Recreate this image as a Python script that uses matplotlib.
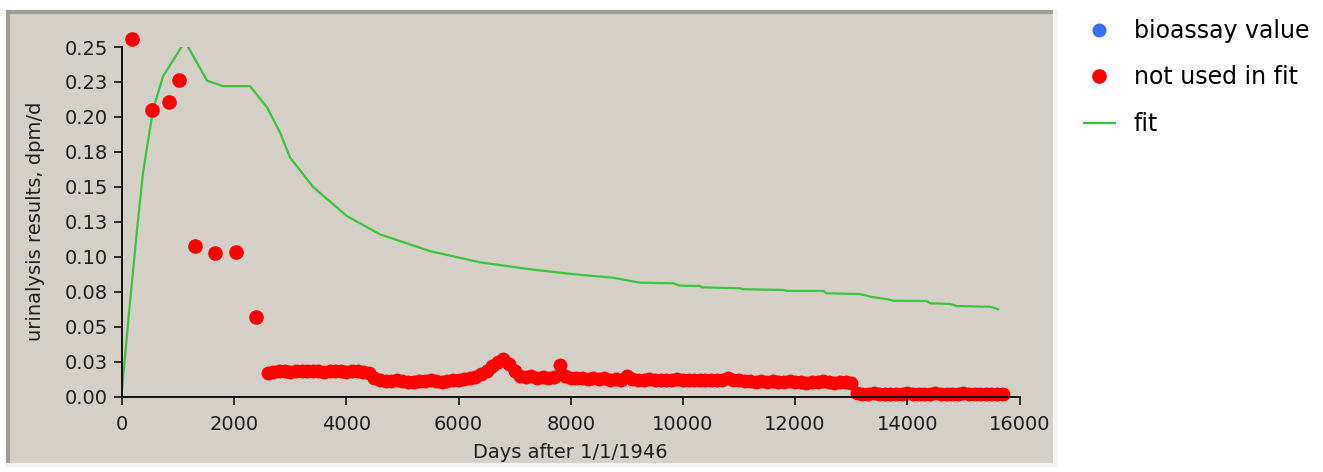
import matplotlib
matplotlib.use("Agg")
import matplotlib.pyplot as plt
from matplotlib.patches import Rectangle
from matplotlib.lines import Line2D

# fitted curve (days after 1/1/1946, dpm/d)
fit_days = [0, 130, 267, 374, 553, 731, 1123, 1515, 1800, 2282, 2584, 2816, 2995,
            3405, 4011, 4599, 5490, 6381, 7273, 8164, 8752, 9235, 9829, 9948,
            10305, 10335, 11018, 11077, 11790, 11850, 12503, 12563, 13157, 13336,
            13633, 13752, 14346, 14405, 14762, 14881, 15475, 15623]
fit_vals = [0.005, 0.062, 0.119, 0.160, 0.205, 0.229, 0.254, 0.226, 0.222, 0.222,
            0.207, 0.189, 0.171, 0.150, 0.129, 0.116, 0.104, 0.096, 0.091, 0.087,
            0.085, 0.0814, 0.081, 0.0793, 0.079, 0.0781, 0.0774, 0.0767, 0.0762,
            0.0755, 0.0755, 0.0738, 0.0733, 0.0714, 0.0697, 0.0685, 0.0683, 0.0667,
            0.0662, 0.0647, 0.0642, 0.0624]

# early results, not used in fit
early_days = [178, 535, 838, 1016, 1301, 1658, 2032, 2388]
early_vals = [0.2557, 0.205, 0.2107, 0.2264, 0.108, 0.103, 0.1036, 0.057]

# later results (dense), also not used in fit
band_days = list(range(2600, 15800, 100))
band_vals = [
    # 2600-4400
    0.0170, 0.0175, 0.0180, 0.0180, 0.0175, 0.0180, 0.0185, 0.0180, 0.0185, 0.0180,
    0.0175, 0.0180, 0.0185, 0.0180, 0.0175, 0.0180, 0.0180, 0.0175, 0.0170,
    # 4500
    0.0135,
    # 4600-6000
    0.0115, 0.0110, 0.0110, 0.0115, 0.0110, 0.0105, 0.0105, 0.0110, 0.0110, 0.0115,
    0.0110, 0.0105, 0.0110, 0.0115, 0.0120,
    # 6100-8000
    0.0125, 0.0130, 0.0140, 0.0160, 0.0185, 0.0215, 0.0245, 0.0265, 0.0230, 0.0180,
    0.0150, 0.0140, 0.0145, 0.0135, 0.0140, 0.0135, 0.0140, 0.0225, 0.0145, 0.0135,
    # 8100-11000
    0.0130, 0.0135, 0.0125, 0.0130, 0.0125, 0.0130, 0.0120, 0.0125, 0.0120, 0.0150,
    0.0125, 0.0120, 0.0120, 0.0125, 0.0120, 0.0120, 0.0115, 0.0120, 0.0125, 0.0120,
    0.0115, 0.0120, 0.0120, 0.0115, 0.0120, 0.0115, 0.0115, 0.0135, 0.0115, 0.0115,
    # 11100-13000
    0.0110, 0.0110, 0.0105, 0.0110, 0.0105, 0.0110, 0.0105, 0.0105, 0.0110, 0.0105,
    0.0105, 0.0100, 0.0105, 0.0105, 0.0110, 0.0105, 0.0100, 0.0105, 0.0105, 0.0100,
    # 13100-15700
    0.0025, 0.0020, 0.0020, 0.0025, 0.0020, 0.0020, 0.0015, 0.0020, 0.0020, 0.0025,
    0.0020, 0.0015, 0.0020, 0.0020, 0.0025, 0.0020, 0.0020, 0.0015, 0.0020, 0.0025,
    0.0020, 0.0020, 0.0015, 0.0020, 0.0020, 0.0015, 0.0020,
]

# no bioassay values shown in this chart
bioassay_days = []
bioassay_vals = []

y_ticks = [0.0, 0.025, 0.05, 0.075, 0.1, 0.125, 0.15, 0.175, 0.2, 0.225, 0.25]
y_labels = ["0.00", "0.03", "0.05", "0.08", "0.10", "0.13", "0.15", "0.18",
            "0.20", "0.23", "0.25"]
x_ticks = [0, 2000, 4000, 6000, 8000, 10000, 12000, 14000, 16000]

W, H = 1323, 472
fig = plt.figure(figsize=(W / 100, H / 100), dpi=100)
fig.patch.set_facecolor("white")

# grey window panel with sunken edges
panel = Rectangle((8 / W, 1 - 464 / H), (1055 - 8) / W, (464 - 12) / H,
                  transform=fig.transFigure, facecolor="#d4d0c8", edgecolor="none",
                  zorder=-5)
fig.patches.append(panel)
edges = [
    ([8, 8], [464, 12], "#a09d96"),
    ([8, 1055], [12, 12], "#a09d96"),
    ([1055, 1055], [464, 12], "#f3f2ee"),
    ([8, 1055], [465, 465], "#f3f2ee"),
]
for xs, ys, c in edges:
    fig.add_artist(Line2D([x / W for x in xs], [1 - y / H for y in ys],
                          transform=fig.transFigure, color=c, lw=3, zorder=-4))

ax = fig.add_axes([122 / W, 1 - 396.5 / H, (1019.5 - 122) / W, (396.5 - 47) / H])
ax.set_facecolor("none")

ax.plot(bioassay_days, bioassay_vals, "o", color="#3a6cf4", markersize=9,
        label="bioassay value")
ax.plot(early_days, early_vals, "o", color="#ff0000", markersize=9.5,
        label="not used in fit", clip_on=False, zorder=3)
ax.plot(band_days, band_vals, "o", color="#ff0000", markersize=10,
        markeredgewidth=0, clip_on=False, zorder=1)
ax.plot(fit_days, fit_vals, "-", color="#3cc23c", lw=1.6, label="fit", zorder=2)

ax.set_xlim(0, 16000)
ax.set_ylim(0, 0.25)
ax.set_xticks(x_ticks)
ax.set_yticks(y_ticks)
ax.set_yticklabels(y_labels)

for s in ["top", "right"]:
    ax.spines[s].set_visible(False)
for s in ["left", "bottom"]:
    ax.spines[s].set_linewidth(1.4)
    ax.spines[s].set_color("#111111")
    ax.spines[s].set_zorder(4)

ax.tick_params(direction="out", length=6, width=1.2, color="#111111",
               labelsize=14, labelcolor="#1e1e1e", pad=4)
ax.tick_params(axis="x", pad=7.5)
ax.set_xlabel("Days after 1/1/1946", fontsize=14, color="#1e1e1e", labelpad=6)
ax.set_ylabel("urinalysis results, dpm/d", fontsize=14, color="#1e1e1e", labelpad=14)

fig.legend(loc="upper left", bbox_to_anchor=(1084 / W, 1 - 19 / H),
           bbox_transform=fig.transFigure, frameon=False, fontsize=17,
           handlelength=1.3, handletextpad=0.8, labelspacing=0.95,
           borderpad=0, borderaxespad=0)

fig.savefig("out.png", dpi=100, facecolor="white")
